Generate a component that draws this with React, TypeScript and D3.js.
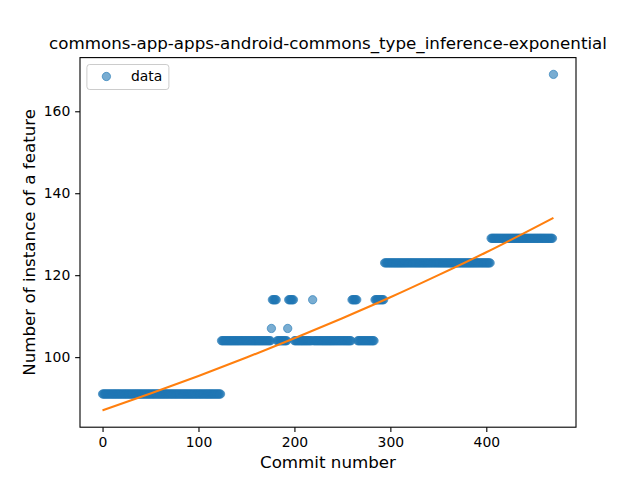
import React, { useEffect, useRef } from 'react';
import * as d3 from 'd3';

// runs of equal values (commit index ranges, inclusive)
const runStart = [0, 124, 176, 177, 182, 193, 194, 200, 219, 220, 260, 266, 284, 294, 405, 470];
const runEnd = [123, 175, 176, 181, 192, 193, 199, 218, 219, 259, 265, 283, 293, 404, 469, 470];
const runValue = [91, 104, 107, 114, 104, 107, 114, 104, 114, 104, 114, 104, 114, 123, 129, 169];

// exponential fit, sampled off the orange curve
const fitX = [0, 50, 100, 150, 200, 250, 300, 350, 400, 470];
const fitY = [87.0, 91.1, 95.4, 99.9, 104.6, 109.5, 114.6, 120.0, 125.6, 134.0];

const xTicks = [0, 100, 200, 300, 400];
const yTicks = [100, 120, 140, 160];

const title = 'commons-app-apps-android-commons_type_inference-exponential';

const Chart: React.FC = () => {
    const ref = useRef<SVGSVGElement | null>(null);

    useEffect(() => {
        if (!ref.current) return;
        const width = 640;
        const height = 480;
        const margin = { top: 57.6, right: 64, bottom: 52.8, left: 80 };
        const font = 'DejaVu Sans, sans-serif';

        const svg = d3.select(ref.current);
        svg.selectAll('*').remove();
        svg.attr('width', width).attr('height', height);

        svg.append('rect').attr('width', width).attr('height', height).attr('fill', '#fff');

        const points: [number, number][] = [];
        runStart.forEach((s, i) => {
            for (let k = s; k <= runEnd[i]; k++) points.push([k, runValue[i]]);
        });

        const x = d3.scaleLinear().domain([-23.5, 493.5]).range([margin.left, width - margin.right]);
        const y = d3.scaleLinear().domain([82.9, 173.1]).range([height - margin.bottom, margin.top]);

        const plot = svg.append('g');

        plot.selectAll('circle.pt')
            .data(points)
            .enter()
            .append('circle')
            .attr('class', 'pt')
            .attr('cx', d => x(d[0]))
            .attr('cy', d => y(d[1]))
            .attr('r', 4.17)
            .attr('fill', '#1f77b4')
            .attr('fill-opacity', 0.6)
            .attr('stroke', '#1f77b4')
            .attr('stroke-opacity', 0.6)
            .attr('stroke-width', 1.0);

        const line = d3.line<number>()
            .x((d, i) => x(fitX[i]))
            .y(d => y(d))
            .curve(d3.curveMonotoneX);

        plot.append('path')
            .attr('d', line(fitY))
            .attr('fill', 'none')
            .attr('stroke', '#ff7f0e')
            .attr('stroke-width', 2.08);

        // Axes
        const xAxis = svg.append('g')
            .attr('transform', `translate(0, ${height - margin.bottom})`)
            .call(d3.axisBottom(x).tickValues(xTicks).tickSize(4.86).tickPadding(4.86).tickSizeOuter(0));
        const yAxis = svg.append('g')
            .attr('transform', `translate(${margin.left}, 0)`)
            .call(d3.axisLeft(y).tickValues(yTicks).tickSize(4.86).tickPadding(4.86).tickSizeOuter(0));

        [xAxis, yAxis].forEach(a => {
            a.select('.domain').remove();
            a.selectAll('line').attr('stroke', '#000').attr('stroke-width', 1.1);
            a.selectAll('text').attr('font-family', font).attr('font-size', 13.9).attr('fill', '#000');
        });

        // frame
        svg.append('rect')
            .attr('x', margin.left)
            .attr('y', margin.top)
            .attr('width', width - margin.left - margin.right)
            .attr('height', height - margin.top - margin.bottom)
            .attr('fill', 'none')
            .attr('stroke', '#000')
            .attr('stroke-width', 1.1);

        svg.append('text')
            .attr('x', (margin.left + width - margin.right) / 2)
            .attr('y', margin.top - 8.3)
            .attr('text-anchor', 'middle')
            .attr('font-family', font)
            .attr('font-size', 16.7)
            .text(title);

        svg.append('text')
            .attr('x', (margin.left + width - margin.right) / 2)
            .attr('y', 468)
            .attr('text-anchor', 'middle')
            .attr('font-family', font)
            .attr('font-size', 16.7)
            .text('Commit number');

        svg.append('text')
            .attr('transform', `translate(35, ${(margin.top + height - margin.bottom) / 2}) rotate(-90)`)
            .attr('text-anchor', 'middle')
            .attr('font-family', font)
            .attr('font-size', 16.7)
            .text('Number of instance of a feature');

        // Legend
        const lg = svg.append('g').attr('transform', `translate(${margin.left + 6.9}, ${margin.top + 6.9})`);
        lg.append('rect')
            .attr('width', 82)
            .attr('height', 25)
            .attr('rx', 2.8)
            .attr('fill', '#fff')
            .attr('fill-opacity', 0.8)
            .attr('stroke', '#cccccc')
            .attr('stroke-width', 1);
        lg.append('circle')
            .attr('cx', 19.5)
            .attr('cy', 12)
            .attr('r', 4.17)
            .attr('fill', '#1f77b4')
            .attr('fill-opacity', 0.6)
            .attr('stroke', '#1f77b4')
            .attr('stroke-opacity', 0.6)
            .attr('stroke-width', 1.0);
        lg.append('text')
            .attr('x', 44)
            .attr('y', 16.8)
            .attr('font-family', font)
            .attr('font-size', 13.9)
            .text('data');
    }, []);

    return <svg ref={ref} style={{ position: 'absolute', left: 0, top: 0 }} />;
};

export default function App() {
    return <Chart />;
}
